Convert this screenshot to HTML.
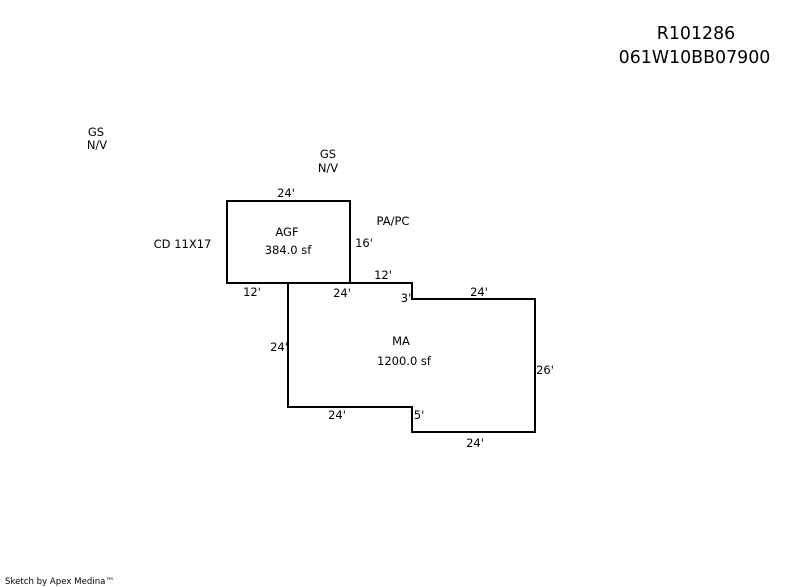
<!DOCTYPE html>
<html>
<head>
<meta charset="utf-8">
<style>
html,body{margin:0;padding:0;background:#fff;width:800px;height:587px;overflow:hidden}
svg{display:block}
text{font-family:"DejaVu Sans","Liberation Sans",sans-serif;font-size:11.5px;fill:#000;text-anchor:middle}
.big{font-size:17.4px}
</style>
</head>
<body>
<svg width="800" height="587" viewBox="0 0 800 587" xmlns="http://www.w3.org/2000/svg">
<g fill="none" stroke="#000" stroke-width="2" stroke-linecap="square" stroke-linejoin="miter" shape-rendering="crispEdges">
<path d="M227 201H350V283H227Z"/>
<path d="M288 283V407H412V432H535V299H412V283H350"/>
</g>
<text class="big" x="696" y="39">R101286</text>
<text class="big" x="694.5" y="63">061W10BB07900</text>
<text x="96" y="136">GS</text>
<text x="97" y="149">N/V</text>
<text x="328" y="158">GS</text>
<text x="328" y="172">N/V</text>
<text x="286" y="197">24'</text>
<text x="393" y="225">PA/PC</text>
<text x="287" y="236">AGF</text>
<text x="288" y="254">384.0 sf</text>
<text x="182.5" y="248">CD 11X17</text>
<text x="364" y="247">16'</text>
<text x="383" y="279">12'</text>
<text x="252" y="296">12'</text>
<text x="342" y="297">24'</text>
<text x="406" y="302">3'</text>
<text x="479" y="296">24'</text>
<text x="279" y="351">24'</text>
<text x="401" y="345">MA</text>
<text x="404" y="365">1200.0 sf</text>
<text x="545" y="374">26'</text>
<text x="337" y="419">24'</text>
<text x="419" y="419">5'</text>
<text x="475" y="447">24'</text>
<text x="59.5" y="584" style="font-size:8.6px">Sketch by Apex Medina™</text>
</svg>
</body>
</html>
